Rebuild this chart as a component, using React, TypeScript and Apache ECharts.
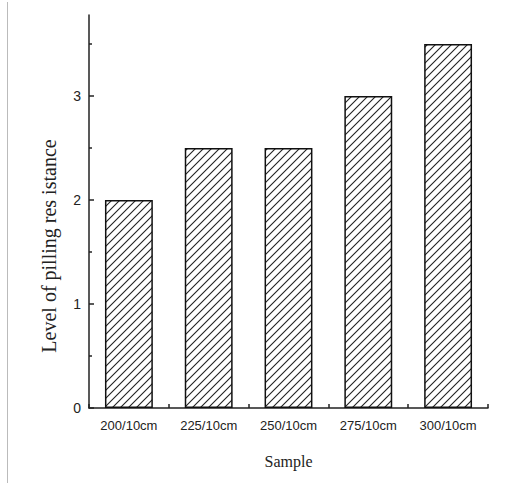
import React, { useEffect, useRef } from "react";
import * as echarts from "echarts";

const categories = ["200/10cm", "225/10cm", "250/10cm", "275/10cm", "300/10cm"];
const values = [2, 2.5, 2.5, 3, 3.5];
const majorTicks = [0, 1, 2, 3];
const minorTicks = [0.5, 1.5, 2.5, 3.5];
const yName = "Level of pilling res istance";
const xName = "Sample";

function makeHatch(): HTMLCanvasElement {
  const c = document.createElement("canvas");
  const s = 8;
  c.width = s;
  c.height = s;
  const ctx = c.getContext("2d")!;
  ctx.fillStyle = "#ffffff";
  ctx.fillRect(0, 0, s, s);
  ctx.strokeStyle = "#222222";
  ctx.lineWidth = 1.1;
  ctx.beginPath();
  ctx.moveTo(-1, s + 1);
  ctx.lineTo(s + 1, -1);
  ctx.moveTo(-2, 2);
  ctx.lineTo(2, -2);
  ctx.moveTo(s - 2, s + 2);
  ctx.lineTo(s + 2, s - 2);
  ctx.stroke();
  return c;
}

export default function App() {
  const ref = useRef<HTMLDivElement>(null);
  useEffect(() => {
    document.body.style.margin = "0";
    const chart = echarts.init(ref.current!, null, { renderer: "svg" });
    const hatch = makeHatch();
    const labelFont = "'Liberation Sans Narrow', 'Arial Narrow', 'Liberation Sans', sans-serif";
    const serif = "'Liberation Serif', 'Times New Roman', serif";
    chart.setOption({
      animation: false,
      backgroundColor: "#ffffff",
      grid: { left: 89, right: 32, top: 15, bottom: 75 },
      graphic: [
        {
          type: "line",
          shape: { x1: 7.5, y1: 2, x2: 7.5, y2: 483 },
          style: { stroke: "#bbbbbb", lineWidth: 1 },
        },
        {
          type: "text",
          x: 49,
          y: 246,
          rotation: Math.PI / 2,
          style: {
            text: yName,
            fontFamily: serif,
            fontSize: 20,
            fill: "#222",
            align: "center",
            verticalAlign: "middle",
          },
        },
      ],
      xAxis: {
        type: "category",
        data: categories,
        boundaryGap: true,
        name: xName,
        nameLocation: "middle",
        nameGap: 45,
        nameTextStyle: { fontFamily: serif, fontSize: 16, color: "#222" },
        axisLine: { lineStyle: { color: "#222", width: 1.5 } },
        axisTick: { show: true, inside: true, length: 4, alignWithLabel: false, lineStyle: { color: "#222", width: 1.5 } },
        axisLabel: { fontFamily: labelFont, fontSize: 13, color: "#222", margin: 11, interval: 0 },
        splitLine: { show: false },
      },
      yAxis: [
        {
          type: "value",
          min: 0,
          max: 3.78,
          interval: 1,
          axisLine: { show: true, lineStyle: { color: "#222", width: 1.5 } },
          axisTick: { show: true, inside: true, length: 5, customValues: majorTicks, lineStyle: { color: "#222", width: 1.5 } },
          axisLabel: { fontFamily: labelFont, fontSize: 14, color: "#222", margin: 8, customValues: majorTicks },
          splitLine: { show: false },
        },
        {
          type: "value",
          min: 0,
          max: 3.78,
          position: "left",
          axisLine: { show: false },
          axisTick: { show: true, inside: true, length: 3, customValues: minorTicks, lineStyle: { color: "#222", width: 1.5 } },
          axisLabel: { show: false },
          splitLine: { show: false },
        },
      ],
      series: [
        {
          type: "bar",
          data: values,
          yAxisIndex: 0,
          barWidth: "60%",
          itemStyle: {
            color: { image: hatch, repeat: "repeat" },
            borderColor: "#111",
            borderWidth: 1.5,
          },
        },
      ],
    });
    return () => chart.dispose();
  }, []);
  return <div ref={ref} style={{ width: 520, height: 483 }} />;
}
